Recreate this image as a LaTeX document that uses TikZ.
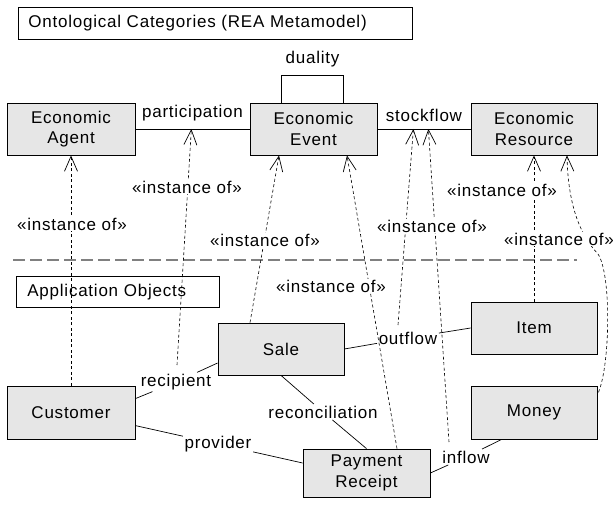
\documentclass[tikz,border=0pt]{standalone}
\usepackage{fontspec}
\setmainfont{Liberation Sans}[LetterSpace=4.5]
\usetikzlibrary{arrows.meta,shadows,calc}
\definecolor{boxgray}{RGB}{230,230,230}
\definecolor{sepgray}{RGB}{128,128,128}
\begin{document}
\begin{tikzpicture}[x=1pt,y=-1pt,
  font=\fontsize{17}{20.5}\selectfont,
  cls/.style={draw=black, line width=0.8pt, fill=boxgray, inner sep=0pt, align=center,
    drop shadow={shadow xshift=1pt, shadow yshift=-1pt, opacity=1, fill=black}},
  titlebox/.style={draw=black, line width=0.8pt, fill=white, anchor=north west,
    inner xsep=10pt, inner ysep=0pt, align=left},
  assoc/.style={draw=black, line width=0.7pt},
  alabel/.style={inner sep=1.5pt},
  inst/.style={draw=black, line width=0.6pt, dash pattern=on 3pt off 2.5pt,
    -{Straight Barb[length=15pt,width=13pt,line width=0.7pt]}},
  instlabel/.style={fill=white, inner sep=1pt},
  sep/.style={draw=sepgray, line width=1.6pt, dash pattern=on 12pt off 5pt}]
\useasboundingbox (0,0) rectangle (613,505);

% title boxes
\node[titlebox, text width=374pt, minimum height=32pt] (t1) at (18,7) {Ontological Categories (REA Metamodel)};
\node[titlebox, text width=181pt, inner xsep=11pt, minimum height=31pt] (t2) at (16,276) {Application Objects};

% separator
\coordinate (s1) at (13,260);
\coordinate (s2) at (577,260);
\draw[sep] (s1) -- (s2);

% classes
\node[cls, minimum width=128pt, minimum height=52pt] (agent) at (71,129) {Economic\\Agent};
\node[cls, minimum width=127pt, minimum height=52pt] (event) at (313.5,129) {Economic\\Event};
\node[cls, minimum width=126pt, minimum height=52pt] (resource) at (534,129) {Economic\\Resource};
\node[cls, minimum width=126pt, minimum height=52pt] (sale) at (281,349) {Sale};
\node[cls, minimum width=126pt, minimum height=52pt] (item) at (534,328) {Item};
\node[cls, minimum width=128pt, minimum height=53pt] (customer) at (71,412.5) {Customer};
\node[cls, minimum width=126pt, minimum height=53pt] (money) at (534,412.5) {Money};
\node[cls, minimum width=127pt, minimum height=48pt] (payment) at (366.5,473) {Payment\\Receipt};

% metamodel associations
\draw[assoc] (agent.east) -- node[above=4pt] (participation) {participation} (event.west);
\draw[assoc] (event.east) -- node[above=4pt] (stockflow) {stockflow} (resource.west);
\coordinate (d1) at ($(event.north west)+(32,-27)$);
\coordinate (d2) at ($(event.north west)+(94,-27)$);
\draw[assoc] ($(event.north west)+(32,0)$) -- (d1) -- node[above=5pt] (duality) {duality} (d2) -- ($(event.north west)+(94,0)$);

% application associations
\node[alabel] (outflow) at (408,338) {outflow};
\node[alabel] (recipient) at (176,382) {recipient};
\node[alabel] (reconciliation) at (323,412) {reconciliation};
\node[alabel] (provider) at (218,444) {provider};
\node[alabel] (inflow) at (466,457) {inflow};
\draw[assoc] (sale.east) -- (outflow) -- (item.west);
\draw[assoc] ($(sale.west)+(0,14)$) -- (recipient) -- ($(customer.north east)+(0,13)$);
\draw[assoc] (sale.south) -- (reconciliation) -- (payment.north);
\draw[assoc] ($(customer.north east)+(0,40)$) -- (provider) -- ($(payment.west)+(0,-10)$);
\draw[assoc] (payment.east) -- (inflow) -- ($(money.south west)+(31,0)$);

% instance-of dependencies
\coordinate (partpt) at ($(agent.east)!0.49!(event.west)$);
\coordinate (stock1) at ($(event.east)+(36,0)$);
\coordinate (stock2) at ($(event.east)+(51,0)$);
\coordinate (reccpt) at ($(recipient.center)+(1,-17)$);
\coordinate (outpt) at ($(outflow.center)+(-10,-13)$);
\coordinate (inpt) at ($(inflow.center)+(-17,-15)$);
\coordinate (mpt) at ($(money.north east)+(0,9)$);
\coordinate (r2) at ($(resource.south)+(33,0)$);
\coordinate (mid8) at (598,254);

\draw[inst] (customer.north) -- (agent.south);
\draw[inst] (reccpt) -- (partpt);
\draw[inst] ($(sale.north)+(-31,0)$) -- ($(event.south)+(-34.5,0)$);
\draw[inst] ($(payment.north)+(30.5,0)$) -- ($(event.south)+(33.5,0)$);
\draw[inst] (outpt) -- (stock1);
\draw[inst] (inpt) -- (stock2);
\draw[inst] (item.north) -- (resource.south);
\draw[inst, {Straight Barb[length=15pt,width=13pt,line width=0.7pt]}-] (r2) .. controls (568,205) and (580,235) .. (mid8) .. controls (612,275) and (610,370) .. (mpt);

\node[instlabel] (i1) at (72,224) {«instance of»};
\node[instlabel] (i2) at (187,187) {«instance of»};
\node[instlabel] (i3) at (265,240) {«instance of»};
\node[instlabel] (i4) at (331,286) {«instance of»};
\node[instlabel] (i5) at (432,226) {«instance of»};
\node[instlabel] (i6) at (502,190) {«instance of»};
\node[instlabel] (i7) at (559,239) {«instance of»};
\end{tikzpicture}
\end{document}
